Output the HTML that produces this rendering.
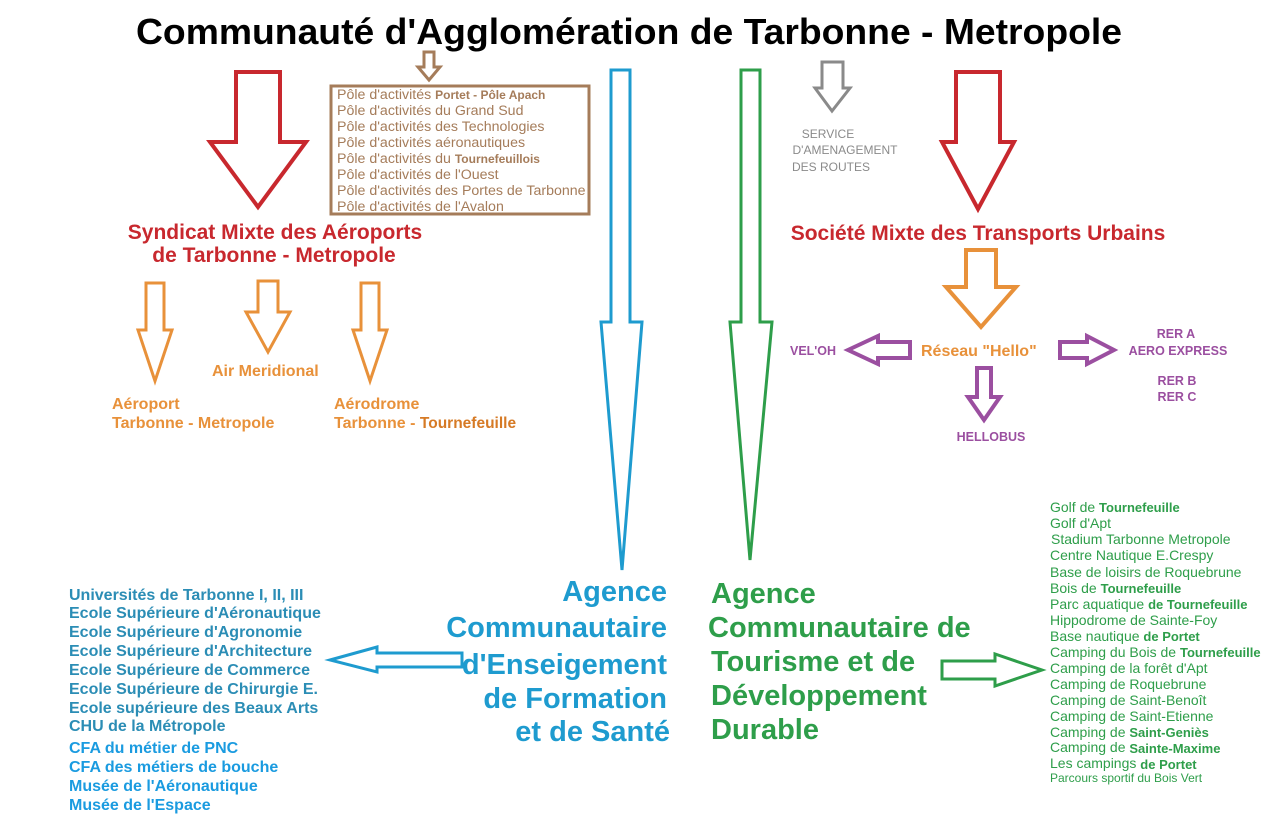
<!DOCTYPE html>
<html><head><meta charset="utf-8"><style>
html,body{margin:0;padding:0;background:#fff;}
svg{display:block;font-family:"Liberation Sans",Arial,sans-serif;}
</style></head><body>
<svg width="1274" height="834" viewBox="0 0 1274 834" xmlns="http://www.w3.org/2000/svg">
<rect width="1274" height="834" fill="#fff"/>
<text x="136" y="44" font-size="36" font-weight="bold" fill="#000" textLength="986" lengthAdjust="spacingAndGlyphs">Communauté d'Agglomération de Tarbonne - Metropole</text>

<g fill="none" stroke-linejoin="miter">
<path d="M236,72 H280 V142 H306 L258,207 L210,142 H236 Z" stroke="#c8282e" stroke-width="4"/>
<path d="M956,72 H1000 V142 H1014 L978,209 L942,142 H956 Z" stroke="#c8282e" stroke-width="4"/>
<path d="M424,52 H434 V67 H440 L429,80 L418,67 H424 Z" stroke="#a57c5a" stroke-width="3"/>
<path d="M822,62 H843 V88 H850 L832,111 L815,88 H822 Z" stroke="#8a8a8a" stroke-width="3"/>
<path d="M611,70 H630 V322 H642 L622,570 L601,322 H611 Z" stroke="#1e9bcf" stroke-width="3"/>
<path d="M741,70 H760 V322 H772 L750,560 L730,322 H741 Z" stroke="#2e9e4a" stroke-width="3"/>
<path d="M146,283 H164 V330 H172 L155,381 L138,330 H146 Z" stroke="#e8913a" stroke-width="3"/>
<path d="M258,281 H278 V312 H290 L268,352 L246,312 H258 Z" stroke="#e8913a" stroke-width="3"/>
<path d="M361,283 H379 V330 H387 L370,381 L353,330 H361 Z" stroke="#e8913a" stroke-width="3"/>
<path d="M966,250 H996 V287 H1016 L981,327 L946,287 H966 Z" stroke="#e8913a" stroke-width="4"/>
<path d="M910,342 H878 V336 L848,350 L878,364 V358 H910 Z" stroke="#9b4fa0" stroke-width="4"/>
<path d="M1060,342 H1087 V336 L1114,350 L1087,364 V358 H1060 Z" stroke="#9b4fa0" stroke-width="4"/>
<path d="M977,368 H991 V397 H1000 L984,420 L968,397 H977 Z" stroke="#9b4fa0" stroke-width="4"/>
<path d="M462,653 H377 V647 L330,660 L377,672 V667 H462 Z" stroke="#1e9bcf" stroke-width="3"/>
<path d="M942,661 H995 V654 L1042,670 L995,686 V679 H942 Z" stroke="#2e9e4a" stroke-width="3"/>
</g>

<rect x="331" y="86" width="258" height="128" fill="none" stroke="#a57c5a" stroke-width="3"/>
<g font-size="14.2" fill="#a57c5a">
<text x="337" y="99">Pôle d'activités <tspan font-weight="bold" font-size="12">Portet - Pôle Apach</tspan></text>
<text x="337" y="115">Pôle d'activités du Grand Sud</text>
<text x="337" y="131">Pôle d'activités des Technologies</text>
<text x="337" y="147">Pôle d'activités aéronautiques</text>
<text x="337" y="163">Pôle d'activités du <tspan font-weight="bold" font-size="12">Tournefeuillois</tspan></text>
<text x="337" y="179">Pôle d'activités de l'Ouest</text>
<text x="337" y="195">Pôle d'activités des Portes de Tarbonne</text>
<text x="337" y="211">Pôle d'activités de l'Avalon</text>
</g>

<g font-size="12" fill="#8a8a8a" text-anchor="middle">
<text x="828" y="138">SERVICE</text>
<text x="845" y="154">D'AMENAGEMENT</text>
<text x="831" y="171">DES ROUTES</text>
</g>

<g font-size="21" font-weight="bold" fill="#c8282e" text-anchor="middle">
<text x="275" y="239">Syndicat Mixte des Aéroports</text>
<text x="274" y="262">de Tarbonne - Metropole</text>
<text x="978" y="240">Société Mixte des Transports Urbains</text>
</g>

<g font-size="16" font-weight="bold" fill="#e8913a">
<text x="212" y="376">Air Meridional</text>
<text x="112" y="409">Aéroport</text>
<text x="112" y="428">Tarbonne - Metropole</text>
<text x="334" y="409">Aérodrome</text>
<text x="334" y="428">Tarbonne - <tspan font-size="15.5" fill="#d67a25">Tournefeuille</tspan></text>
<text x="921" y="356">Réseau "Hello"</text>
</g>

<g font-size="12.5" font-weight="bold" fill="#9b4fa0">
<text x="790" y="355">VEL'OH</text>
<text x="1176" y="338" text-anchor="middle">RER A</text>
<text x="1178" y="355" text-anchor="middle">AERO EXPRESS</text>
<text x="1177" y="385" text-anchor="middle">RER B</text>
<text x="1177" y="401" text-anchor="middle">RER C</text>
<text x="991" y="441" text-anchor="middle">HELLOBUS</text>
</g>

<g font-size="29" font-weight="bold" fill="#1e9bcf" text-anchor="end">
<text x="667" y="601">Agence</text>
<text x="667" y="637">Communautaire</text>
<text x="667" y="674">d'Enseigement</text>
<text x="667" y="708">de Formation</text>
<text x="670" y="741">et de Santé</text>
</g>
<g font-size="29" font-weight="bold" fill="#2e9e4a">
<text x="711" y="603">Agence</text>
<text x="708" y="637">Communautaire de</text>
<text x="711" y="671">Tourisme et de</text>
<text x="711" y="705">Développement</text>
<text x="711" y="739">Durable</text>
</g>

<g font-size="16" font-weight="bold" fill="#2b8db5">
<text x="69" y="600">Universités de Tarbonne I, II, III</text>
<text x="69" y="618">Ecole Supérieure d'Aéronautique</text>
<text x="69" y="637">Ecole Supérieure d'Agronomie</text>
<text x="69" y="656">Ecole Supérieure d'Architecture</text>
<text x="69" y="675">Ecole Supérieure de Commerce</text>
<text x="69" y="694">Ecole Supérieure de Chirurgie E.</text>
<text x="69" y="713">Ecole supérieure des Beaux Arts</text>
<text x="69" y="731">CHU de la Métropole</text>
</g>
<g font-size="16" font-weight="bold" fill="#1a9be0">
<text x="69" y="753">CFA du métier de PNC</text>
<text x="69" y="772">CFA des métiers de  bouche</text>
<text x="69" y="791">Musée de l'Aéronautique</text>
<text x="69" y="810">Musée de l'Espace</text>
</g>

<g font-size="14" fill="#2e9e4a">
<text x="1050" y="512">Golf de  <tspan font-weight="bold" font-size="13">Tournefeuille</tspan></text>
<text x="1050" y="528">Golf d'Apt</text>
<text x="1051" y="544">Stadium Tarbonne Metropole</text>
<text x="1050" y="560">Centre Nautique E.Crespy</text>
<text x="1050" y="577">Base de loisirs de Roquebrune</text>
<text x="1050" y="593">Bois de  <tspan font-weight="bold" font-size="13">Tournefeuille</tspan></text>
<text x="1050" y="609">Parc aquatique <tspan font-weight="bold" font-size="13">de Tournefeuille</tspan></text>
<text x="1050" y="625">Hippodrome de Sainte-Foy</text>
<text x="1050" y="641">Base nautique <tspan font-weight="bold" font-size="13">de Portet</tspan></text>
<text x="1050" y="657">Camping du Bois de <tspan font-weight="bold" font-size="13">Tournefeuille</tspan></text>
<text x="1050" y="673">Camping de la forêt d'Apt</text>
<text x="1050" y="689">Camping de Roquebrune</text>
<text x="1050" y="705">Camping de Saint-Benoît</text>
<text x="1050" y="721">Camping de Saint-Etienne</text>
<text x="1050" y="737">Camping de <tspan font-weight="bold" font-size="13">Saint-Geniès</tspan></text>
<text x="1050" y="752">Camping de  <tspan font-weight="bold" font-size="13" dy="1">Sainte-Maxime</tspan></text>
<text x="1050" y="768">Les campings <tspan font-weight="bold" font-size="13" dy="1">de Portet</tspan></text>
<text x="1050" y="782" font-size="12">Parcours sportif du Bois Vert</text>
</g>
</svg>
</body></html>
